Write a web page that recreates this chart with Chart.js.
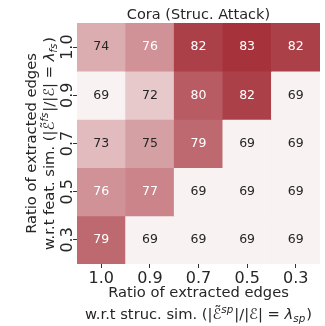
<!DOCTYPE html>
<html>
<head>
<meta charset="utf-8">
<script src="https://cdn.jsdelivr.net/npm/chart.js@4.4.0/dist/chart.umd.min.js"></script>
<style>
  html, body { margin: 0; padding: 0; background: #fff; }
  #wrap { width: 325px; height: 326px; }
</style>
</head>
<body>
<div id="wrap"><canvas id="heat" width="325" height="326"></canvas></div>
<script>
// columns: ratio w.r.t struc. sim., rows: ratio w.r.t feat. sim.
const xLabels = ['1.0', '0.9', '0.7', '0.5', '0.3'];
const yLabels = ['1.0', '0.9', '0.7', '0.5', '0.3'];
const row10 = [74, 76, 82, 83, 82];
const row09 = [69, 72, 80, 82, 69];
const row07 = [73, 75, 79, 69, 69];
const row05 = [76, 77, 69, 69, 69];
const row03 = [79, 69, 69, 69, 69];
const rows = [row10, row09, row07, row05, row03];
const vmin = 69, vmax = 83;

const FONT = '"DejaVu Sans", Verdana, sans-serif';
const TEXT = '#262626';

// light -> dark red
function cellColor(v) {
  const lo = [249, 242, 242], hi = [166, 50, 60];
  const t = (v - vmin) / (vmax - vmin);
  const c = lo.map((a, i) => Math.round(a + (hi[i] - a) * t));
  return `rgb(${c[0]},${c[1]},${c[2]})`;
}

const datasets = rows.map((vals, r) => ({
  data: vals.map(() => [r, r + 1]),
  backgroundColor: vals.map(cellColor),
  borderWidth: 0,
  barPercentage: 1,
  categoryPercentage: 1,
  grouped: false
}));

// draws a line of text pieces centred on cx, baseline at cy
function drawRuns(ctx, runs, cx, cy) {
  let total = 0;
  runs.forEach(r => {
    ctx.font = r.font;
    r.w = ctx.measureText(r.t).width + (r.pad || 0);
    total += r.w;
  });
  let x = cx - total / 2;
  runs.forEach(r => {
    ctx.font = r.font;
    ctx.fillText(r.t, x, cy + (r.dy || 0));
    if (r.tilde) {
      ctx.textAlign = 'center';
      ctx.fillText('\u02DC', x + r.w / 2 + 1, cy - 3);
      ctx.textAlign = 'left';
    }
    x += r.w;
  });
}

function mathLine(prefix, sub) {
  const n = `14.7px ${FONT}`;
  const s = `italic 10.3px ${FONT}`;
  const it = `italic 14.7px ${FONT}`;
  return [
    { t: prefix + '(|', font: n },
    { t: '\u2130', font: n, tilde: true },
    { t: sub, font: s, dy: -6, pad: 1 },
    { t: '|/|', font: n },
    { t: '\u2130', font: n },
    { t: '| = ', font: n },
    { t: '\u03BB', font: it },
    { t: sub, font: s, dy: 3, pad: 1 },
    { t: ')', font: n }
  ];
}

const labelsPlugin = {
  id: 'labels',
  afterDatasetsDraw(chart) {
    const { ctx, scales: { x, y } } = chart;
    ctx.save();
    ctx.font = `12.5px ${FONT}`;
    ctx.textAlign = 'center';
    ctx.textBaseline = 'middle';
    rows.forEach((vals, r) => vals.forEach((v, c) => {
      ctx.fillStyle = v >= 76 ? '#ffffff' : TEXT;
      ctx.fillText(String(v), x.getPixelForValue(c), y.getPixelForValue(r + 0.5));
    }));
    ctx.restore();
  },
  afterDraw(chart) {
    const { ctx, chartArea } = chart;
    const cx = (chartArea.left + chartArea.right) / 2;
    const cy = (chartArea.top + chartArea.bottom) / 2;
    ctx.save();
    ctx.fillStyle = TEXT;
    ctx.textAlign = 'left';
    ctx.textBaseline = 'alphabetic';

    ctx.font = `14.5px ${FONT}`;
    ctx.textAlign = 'center';
    ctx.fillText('Cora (Struc. Attack)', cx, 18.5);
    ctx.textAlign = 'left';

    // x axis title
    drawRuns(ctx, [{ t: 'Ratio of extracted edges', font: `14.7px ${FONT}` }], cx, 297);
    drawRuns(ctx, mathLine('w.r.t struc. sim. ', 'sp'), cx, 319);

    // y axis title
    ctx.translate(0, cy);
    ctx.rotate(-Math.PI / 2);
    drawRuns(ctx, [{ t: 'Ratio of extracted edges', font: `14.7px ${FONT}` }], 0, 35.5);
    drawRuns(ctx, mathLine('w.r.t feat. sim. ', 'fs'), 0, 54);
    ctx.restore();
  }
};

new Chart(document.getElementById('heat'), {
  type: 'bar',
  data: { labels: xLabels, datasets },
  options: {
    responsive: false,
    animation: false,
    events: [],
    layout: { padding: { left: 0, right: 5, top: 23, bottom: 0 } },
    plugins: { legend: { display: false }, tooltip: { enabled: false } },
    scales: {
      x: {
        type: 'category',
        afterFit: s => { s.height = 62; },
        ticks: { font: { family: FONT, size: 16 }, color: TEXT, padding: 1, maxRotation: 0 },
        grid: { offset: false, drawOnChartArea: false, drawTicks: true, tickLength: 4, color: '#333' },
        border: { display: false }
      },
      y: {
        type: 'linear',
        min: 0,
        max: 5,
        reverse: true,
        afterBuildTicks: s => { s.ticks = yLabels.map((_, i) => ({ value: i + 0.5 })); },
        afterFit: s => { s.width = 77; },
        ticks: {
          callback: (v, i) => yLabels[i],
          font: { family: FONT, size: 16 },
          color: TEXT,
          minRotation: 90,
          maxRotation: 90,
          crossAlign: 'center',
          padding: -7.5
        },
        grid: { drawOnChartArea: false, drawTicks: true, tickLength: 4, color: '#333' },
        border: { display: false }
      }
    }
  },
  plugins: [labelsPlugin]
});
</script>
</body>
</html>
